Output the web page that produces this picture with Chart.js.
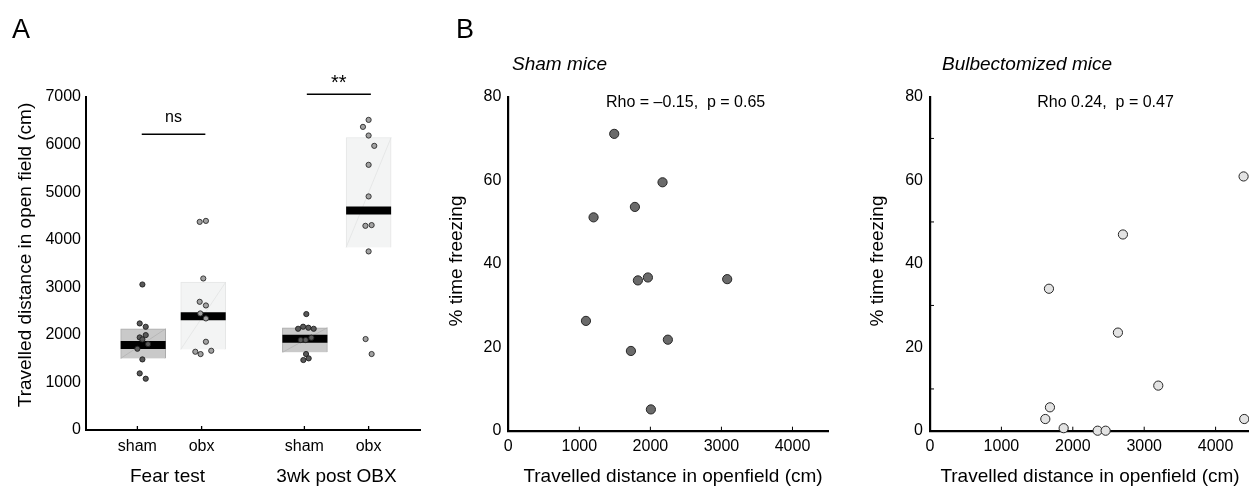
<!DOCTYPE html>
<html><head><meta charset="utf-8">
<script src="https://cdn.jsdelivr.net/npm/chart.js@4.4.1/dist/chart.umd.min.js"></script>
<style>
html,body{margin:0;padding:0;background:#fff;overflow:hidden;width:1249px;height:488px;position:relative}
canvas{position:absolute;top:0}
</style></head><body>
<canvas id="cA" width="430" height="488" style="left:0"></canvas>
<canvas id="cB1" width="410" height="488" style="left:430px"></canvas>
<canvas id="cB2" width="420" height="488" style="left:840px"></canvas>
<script>
// ---------- DATA ----------
const openfieldTicks = [0,1000,2000,3000,4000,5000,6000,7000];
const freezeTicks = [0,20,40,60,80];
const freezeMinorTicks = [10,30,50,70];
const distTicks = [0,1000,2000,3000,4000];

const groupLabels = ['sham','obx','sham','obx'];
const sessionNames = ['Fear test','3wk post OBX'];
const groupPos = [1, 2, 3.6, 4.6];
const boxPos   = [1.09, 2.025, 3.608, 4.6];
const boxLow  = [1505, 1694, 1632, 3838];
const boxHigh = [2128, 3108, 2150, 6149];
const groupMean = [1785, 2390, 1918, 4612];

const shamFearDist   = [3059, 2240, 2170, 1995, 1946, 1904, 1806, 1708, 1484, 1190, 1078];
const shamFearJitter = [0.078, 0.036, 0.13, 0.13, 0.036, 0.078, 0.166, 0, 0.078, 0.036, 0.13];
const obxFearDist    = [4396, 4375, 3185, 2695, 2618, 2450, 2345, 1855, 1666, 1645, 1596];
const obxFearJitter  = [0.067, -0.03, 0.026, -0.03, 0.067, -0.02, 0.067, 0.067, 0.15, -0.098, -0.016];
const shamPostDist   = [2437, 2171, 2150, 2128, 2128, 1940, 1891, 1891, 1597, 1506, 1471];
const shamPostJitter = [0.03, -0.02, 0.062, -0.098, 0.145, 0.109, -0.058, 0.02, 0.026, 0.067, -0.016];
const obxPostDist    = [6519, 6372, 6190, 5973, 5574, 4910, 4307, 4292, 3754, 1912, 1597];
const obxPostJitter  = [0, -0.088, 0, 0.088, 0, 0, 0.047, -0.05, 0, -0.047, 0.047];

const sigLabels = ['ns', '**'];
const sigFrom   = [1.068, 3.638];
const sigTo     = [2.058, 4.635];
const sigLevel  = [6218, 7059];

const shamScatterDist   = [1491, 2171, 1782, 1200, 1824, 1965, 3081, 1093, 2246, 1726, 2007];
const shamScatterFreeze = [71.1, 59.5, 53.6, 51.1, 36.0, 36.7, 36.3, 26.3, 21.8, 19.1, 5.1];
const obxScatterDist    = [4392, 2702, 1666, 2632, 3197, 1680, 1615, 1872, 2348, 2460, 4401];
const obxScatterFreeze  = [60.9, 47.0, 34.0, 23.5, 10.8, 5.6, 2.8, 0.6, 0, 0, 2.8];

const shamStat = 'Rho = \u20130.15,  p = 0.65';
const obxStat  = 'Rho 0.24,  p = 0.47';

// ---------- HELPERS ----------
const FAM = "'Liberation Sans', Arial, Helvetica, sans-serif";
Chart.defaults.font.family = FAM;
Chart.defaults.color = '#000';
Chart.defaults.animation = false;

function txt(ctx, s, x, y, o = {}) {
  ctx.save();
  ctx.translate(x, y);
  ctx.rotate(o.rot || 0);
  ctx.font = `${o.style || ''} ${o.size || 16}px ${FAM}`;
  ctx.fillStyle = o.color || '#000';
  ctx.textAlign = o.align || 'center';
  ctx.textBaseline = o.base || 'middle';
  ctx.fillText(s, 0, 0);
  ctx.restore();
}
function seg(ctx, x0, y0, x1, y1, w, c) {
  ctx.save(); ctx.beginPath(); ctx.moveTo(x0, y0); ctx.lineTo(x1, y1);
  ctx.lineWidth = w; ctx.strokeStyle = c; ctx.stroke(); ctx.restore();
}
function fitArea(chart, t) {
  for (let i = 0; i < 4; i++) {
    const a = chart.chartArea, p = chart.options.layout.padding;
    p.left += t.left - a.left; p.top += t.top - a.top;
    p.right += a.right - t.right; p.bottom += a.bottom - t.bottom;
    chart.update('none');
  }
}
function setTicks(vals) { return s => { s.ticks = vals.map(v => ({ value: v })); }; }
const plain = v => String(v);
function jitterPoints(dist, jit, pos) { return dist.map((d, i) => ({ x: pos + jit[i], y: d })); }

const boxDiag = {
  id: 'boxDiag',
  afterDatasetDraw(chart, args) {
    const ds = chart.data.datasets[args.index];
    if (ds.type !== 'bar') return;
    const ctx = chart.ctx;
    args.meta.data.forEach(el => {
      const p = el.getProps(['x', 'y', 'base', 'width'], true);
      seg(ctx, p.x - p.width / 2, p.base, p.x + p.width / 2, p.y, 0.8, ds.diagColor);
    });
  }
};

// ---------- PANEL A ----------
const chartA = new Chart(document.getElementById('cA'), {
  type: 'scatter',
  data: {
    datasets: [
      { type: 'bar', data: [0, 2].map(i => ({ x: boxPos[i], y: [boxLow[i], boxHigh[i]] })),
        backgroundColor: '#c9c9c9', borderColor: '#ababab', borderWidth: 1, barThickness: 45,
        grouped: false, order: 3, diagColor: '#b3b3b3' },
      { type: 'bar', data: [1, 3].map(i => ({ x: boxPos[i], y: [boxLow[i], boxHigh[i]] })),
        backgroundColor: '#f3f4f4', borderColor: '#e5e6e6', borderWidth: 1, barThickness: 45,
        grouped: false, order: 3, diagColor: '#e2e3e3' },
      { data: boxPos.map((p, i) => ({ x: p, y: groupMean[i] })), pointStyle: 'line',
        pointRadius: 22.5, borderWidth: 8, borderColor: '#000', order: 2, clip: false },
      { data: jitterPoints(shamFearDist, shamFearJitter, groupPos[0]), backgroundColor: '#595959',
        borderColor: '#1e1e1e', borderWidth: 0.9, pointRadius: 2.6, order: 1, clip: false },
      { data: jitterPoints(obxFearDist, obxFearJitter, groupPos[1]), backgroundColor: '#a2a2a2',
        borderColor: '#2a2a2a', borderWidth: 0.9, pointRadius: 2.6, order: 1, clip: false },
      { data: jitterPoints(shamPostDist, shamPostJitter, groupPos[2]), backgroundColor: '#595959',
        borderColor: '#1e1e1e', borderWidth: 0.9, pointRadius: 2.6, order: 1, clip: false },
      { data: jitterPoints(obxPostDist, obxPostJitter, groupPos[3]), backgroundColor: '#a2a2a2',
        borderColor: '#2a2a2a', borderWidth: 0.9, pointRadius: 2.6, order: 1, clip: false }
    ]
  },
  options: {
    responsive: false, events: [],
    layout: { autoPadding: false, padding: { left: 40, top: 90, right: 10, bottom: 30 } },
    plugins: { legend: { display: false }, tooltip: { enabled: false } },
    scales: {
      x: { type: 'linear', offset: false, min: 0.2, max: 5.4, afterBuildTicks: setTicks(groupPos),
        ticks: { callback: (v, i) => groupLabels[i], font: { size: 16 }, color: '#000', padding: 7, autoSkip: false, maxRotation: 0 },
        grid: { display: false, drawTicks: false, offset: false }, border: { color: '#000', width: 2 } },
      y: { min: 0, max: 7000, afterBuildTicks: setTicks(openfieldTicks),
        ticks: { callback: plain, font: { size: 16 }, color: '#000', padding: 5 },
        grid: { display: false, drawTicks: false }, border: { color: '#000', width: 2 } }
    }
  },
  plugins: [boxDiag, {
    id: 'annA',
    afterDraw(chart) {
      const ctx = chart.ctx, x = chart.scales.x, y = chart.scales.y, a = chart.chartArea;
      groupPos.forEach(p => { const px = x.getPixelForValue(p); seg(ctx, px, a.bottom, px, a.bottom - 4, 1.3, '#000'); });
      sigLabels.forEach((lab, i) => {
        const py = y.getPixelForValue(sigLevel[i]);
        const x0 = x.getPixelForValue(sigFrom[i]), x1 = x.getPixelForValue(sigTo[i]);
        seg(ctx, x0, py, x1, py, 1.4, '#000');
        if (lab === '**') txt(ctx, lab, (x0 + x1) / 2, py - 5, { size: 20, base: 'alphabetic' });
        else txt(ctx, lab, (x0 + x1) / 2, py - 12, { size: 16, base: 'alphabetic' });
      });
      txt(ctx, sessionNames[0], x.getPixelForValue((groupPos[0] + groupPos[1]) / 2) - 2, 477, { size: 19 });
      txt(ctx, sessionNames[1], x.getPixelForValue((groupPos[2] + groupPos[3]) / 2), 477, { size: 19 });
      txt(ctx, 'Travelled distance in open field (cm)', 26, 255, { size: 19, rot: -Math.PI / 2 });
      txt(ctx, 'A', 12, 38, { size: 27, align: 'left', base: 'alphabetic' });
    }
  }]
});
fitArea(chartA, { left: 86, right: 420, top: 97, bottom: 430 });

// ---------- PANEL B ----------
function scatterChart(id, xs, ys, fill, opts) {
  const c = new Chart(document.getElementById(id), {
    type: 'scatter',
    data: { datasets: [{ data: xs.map((v, i) => ({ x: v, y: ys[i] })), backgroundColor: fill,
      borderColor: '#262626', borderWidth: 1, pointRadius: 4.6, clip: false }] },
    options: {
      responsive: false, events: [],
      layout: { autoPadding: false, padding: { left: 40, top: 90, right: 10, bottom: 30 } },
      plugins: { legend: { display: false }, tooltip: { enabled: false } },
      scales: {
        x: { type: 'linear', min: 0, max: 4500, afterBuildTicks: setTicks(distTicks),
          ticks: { callback: plain, font: { size: 16 }, color: '#000', padding: 6, maxRotation: 0 },
          grid: { display: false, drawTicks: false }, border: { color: '#000', width: 2.2 } },
        y: { min: 0, max: 80, afterBuildTicks: setTicks(freezeTicks),
          ticks: { callback: plain, font: { size: 16 }, color: '#000', padding: 7 },
          grid: { display: false, drawTicks: false }, border: { color: '#000', width: 2.2 } }
      }
    },
    plugins: [{
      id: 'annB',
      afterDraw(chart) {
        const ctx = chart.ctx, x = chart.scales.x, y = chart.scales.y, a = chart.chartArea;
        distTicks.slice(1).forEach(v => { const px = x.getPixelForValue(v); seg(ctx, px, a.bottom, px, a.bottom - 4, 1, '#000'); });
        if (opts.minor) freezeMinorTicks.forEach(v => { const py = y.getPixelForValue(v); seg(ctx, a.left, py, a.left + 4, py, 1, '#000'); });
        txt(ctx, opts.title, opts.titleX, 69.5, { size: 19, style: 'italic', align: 'left', base: 'alphabetic' });
        txt(ctx, opts.stat, opts.statX, 103, { size: 16, align: 'left' });
        txt(ctx, '% time freezing', opts.yTitleX, 261, { size: 19, rot: -Math.PI / 2 });
        txt(ctx, 'Travelled distance in openfield (cm)', opts.xTitleX, 477, { size: 19 });
        if (opts.letter) txt(ctx, opts.letter, opts.letterX, 38, { size: 27, align: 'left', base: 'alphabetic' });
      }
    }]
  });
  fitArea(c, opts.area);
  return c;
}
scatterChart('cB1', shamScatterDist, shamScatterFreeze, '#6a6a6a', {
  area: { left: 78.3, right: 398, top: 96.7, bottom: 430.7 },
  title: 'Sham mice', titleX: 82, stat: shamStat, statX: 176, yTitleX: 27, xTitleX: 243,
  letter: 'B', letterX: 26, minor: false });
scatterChart('cB2', obxScatterDist, obxScatterFreeze, '#e3e3e3', {
  area: { left: 90, right: 411.3, top: 96.7, bottom: 430.7 },
  title: 'Bulbectomized mice', titleX: 102, stat: obxStat, statX: 197.3, yTitleX: 38, xTitleX: 250,
  minor: true });
</script>
</body></html>
